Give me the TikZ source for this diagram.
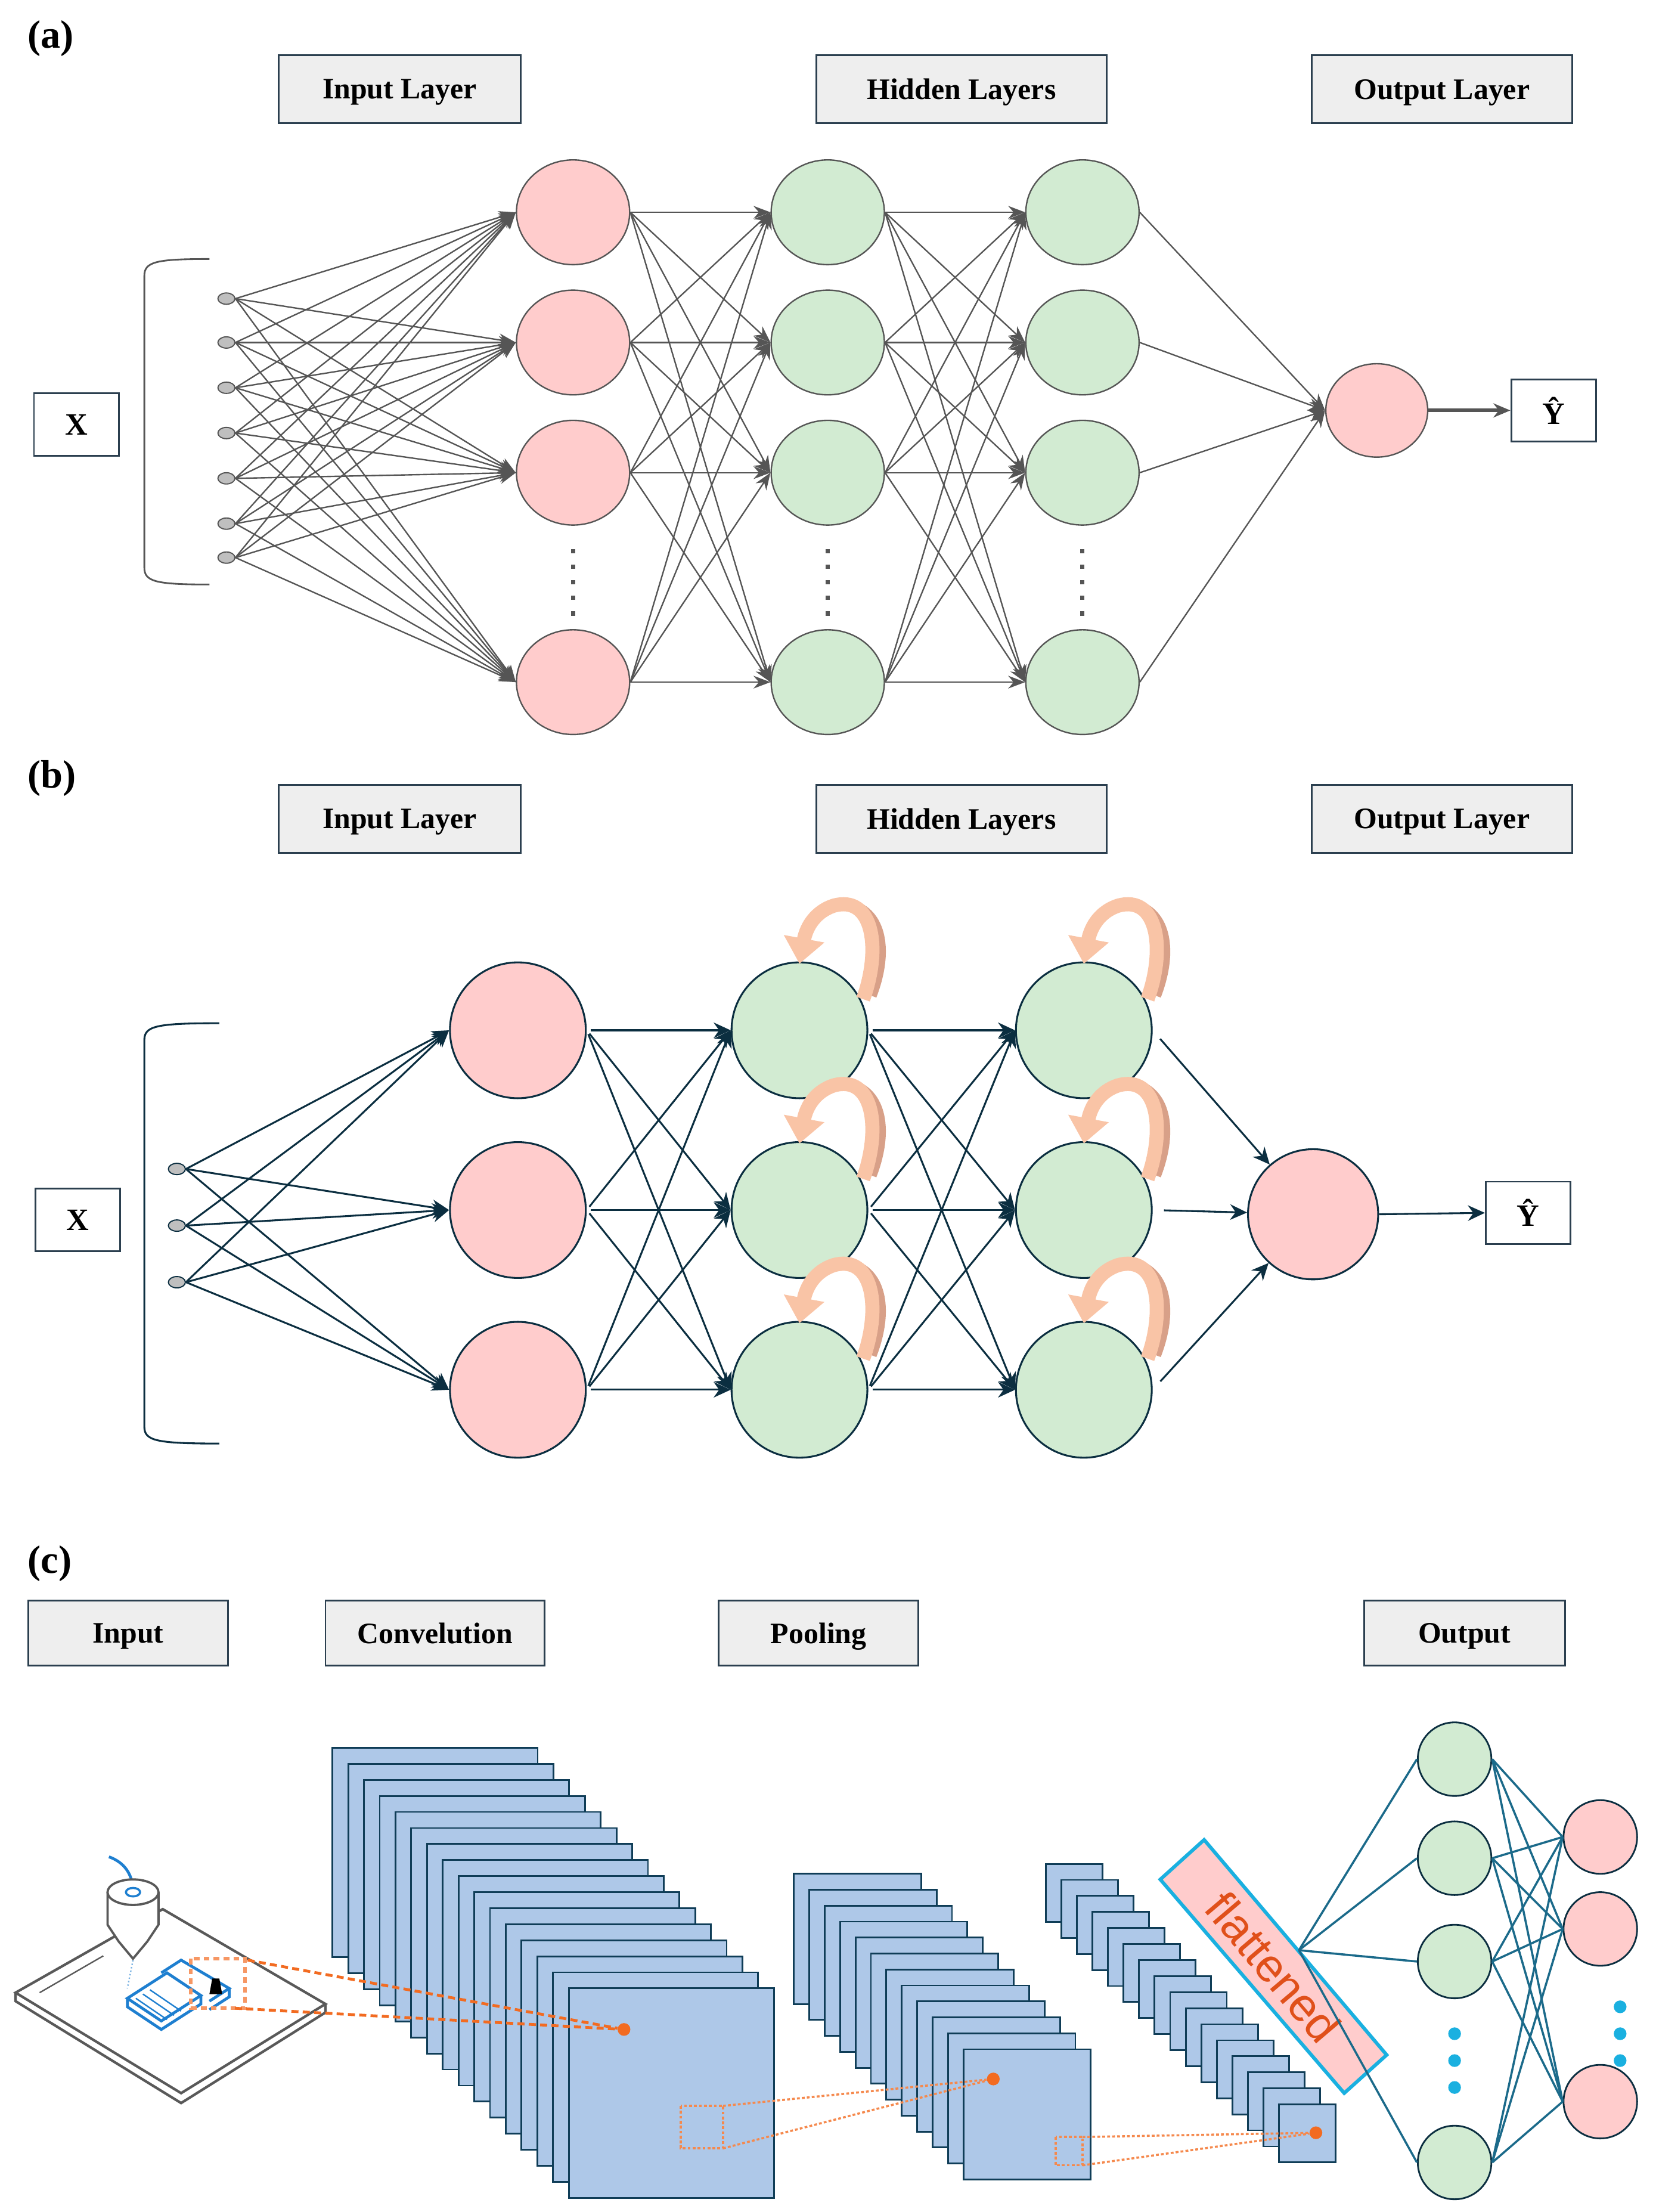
\documentclass[tikz,border=0pt]{standalone}
\usepackage{fontspec}
\setmainfont{Liberation Serif}
\newfontfamily\sansf{Liberation Sans}
\usetikzlibrary{shapes.geometric,arrows.meta,calc}
\definecolor{hdr}{HTML}{EEEEEE}
\definecolor{hdrb}{HTML}{2B3F4F}
\definecolor{pinkn}{HTML}{FFCCCC}
\definecolor{greenn}{HTML}{D2EBD2}
\definecolor{grayl}{HTML}{555555}
\definecolor{navy}{HTML}{0B2E40}
\definecolor{salmon}{HTML}{F9C4A6}
\definecolor{salmond}{HTML}{D8A088}
\definecolor{blueR}{HTML}{AEC8E8}
\definecolor{blueB}{HTML}{0F3D57}
\definecolor{teal}{HTML}{1B6A8A}
\definecolor{cyanb}{HTML}{1AB0E0}
\definecolor{orng}{HTML}{F26B21}
\definecolor{orngt}{HTML}{E0501A}
\definecolor{pblue}{HTML}{1E7FD0}
\begin{document}
\begin{tikzpicture}[x=1pt,y=-1pt,
 hbox/.style={draw=hdrb,fill=hdr,line width=1.2pt,minimum height=48pt,inner sep=0pt,text depth=0pt,font=\fontsize{21}{24}\selectfont\bfseries},
 xbox/.style={draw=hdrb,fill=white,line width=1.2pt,minimum width=60pt,minimum height=44pt,inner sep=0pt,font=\fontsize{22}{26}\selectfont\bfseries},
 lbl/.style={font=\fontsize{28}{32}\selectfont\bfseries,anchor=west},
 pa/.style={ellipse,draw=grayl,fill=pinkn,line width=1pt,minimum width=80pt,minimum height=74pt,inner sep=0pt},
 ga/.style={ellipse,draw=grayl,fill=greenn,line width=1pt,minimum width=80pt,minimum height=74pt,inner sep=0pt},
 dt/.style={ellipse,draw=grayl,fill=gray!50,line width=0.8pt,minimum width=12pt,minimum height=8pt,inner sep=0pt},
 ca/.style={draw=grayl,line width=1pt,-{Stealth[length=12pt,width=9pt]}},
 pb/.style={circle,draw=navy,fill=pinkn,line width=1.3pt,minimum size=96pt,inner sep=0pt},
 gb/.style={circle,draw=navy,fill=greenn,line width=1.3pt,minimum size=96pt,inner sep=0pt},
 cb/.style={draw=navy,line width=1.3pt,-{Stealth[length=12pt,width=11pt]}},
 rec/.style={draw=salmon,line width=10pt,-{Triangle[length=18pt,width=28pt]}},
 fm/.style={draw=blueB,fill=blueR,line width=1.2pt},
 gc/.style={ellipse,draw=navy,fill=greenn,line width=1.2pt,minimum width=52pt,minimum height=52pt,inner sep=0pt},
 pc/.style={ellipse,draw=navy,fill=pinkn,line width=1.2pt,minimum width=52pt,minimum height=52pt,inner sep=0pt},
 tl/.style={draw=teal,line width=1.5pt},
 od/.style={draw=orng,line width=2pt,dash pattern=on 5pt off 3pt},
 odt/.style={draw=orng!80,line width=1.5pt,dash pattern=on 2pt off 1.5pt},
 vd/.style={draw=grayl,line width=3pt,dash pattern=on 3pt off 8pt}]
\useasboundingbox (0,0) rectangle (1170,1563);
% ================= (a)
\node[lbl] (la) at (16,27) {(a)};
\node[hbox,minimum width=171pt] (ha1) at (282.5,63) {Input Layer};
\node[hbox,minimum width=205pt] (ha2) at (679.5,63) {Hidden Layers};
\node[hbox,minimum width=184pt] (ha3) at (1019,63) {Output Layer};
\node[xbox] (xa) at (54,300) {X};
\draw[grayl,line width=1.2pt] (148,183) .. controls (110,183) and (102,185) .. (102,195) -- (102,401) .. controls (102,411) and (110,413) .. (148,413);
\foreach \i/\y in {1/211,2/242,3/274,4/306,5/338,6/370,7/394} \node[dt] (ad\i) at (160,\y) {};
\foreach \i/\y in {1/150,2/242,3/334,4/482}{
 \node[pa] (ai\i) at (405,\y) {};
 \node[ga] (ah\i) at (585,\y) {};
 \node[ga] (ag\i) at (765,\y) {};}
\node[pa,minimum width=72pt,minimum height=66pt] (ao) at (973,290) {};
\node[xbox] (ya) at (1098,290) {Ŷ};
\draw[vd] (405,388) -- (405,440);
\draw[vd] (585,388) -- (585,440);
\draw[vd] (765,388) -- (765,440);
\foreach \i in {1,...,7} \foreach \j in {1,...,4} \draw[ca] (ad\i.east) -- (ai\j.west);
\foreach \i in {1,...,4} \foreach \j in {1,...,4}{
 \draw[ca] (ai\i.east) -- (ah\j.west);
 \draw[ca] (ah\i.east) -- (ag\j.west);}
\foreach \i in {1,...,4} \draw[ca] (ag\i.east) -- (ao.west);
\draw[grayl,line width=2.5pt,-{Stealth[length=12pt,width=10pt]}] (ao.east) -- (ya.west);
% ================= (b)
\node[lbl] (lb) at (16,550) {(b)};
\node[hbox,minimum width=171pt] (hb1) at (282.5,578.5) {Input Layer};
\node[hbox,minimum width=205pt] (hb2) at (679.5,578.5) {Hidden Layers};
\node[hbox,minimum width=184pt] (hb3) at (1019,578.5) {Output Layer};
\node[xbox] (xb) at (55,862) {X};
\draw[navy,line width=1.3pt] (155,723) .. controls (110,723) and (102,725) .. (102,735) -- (102,1008) .. controls (102,1018) and (110,1020) .. (155,1020);
\foreach \i/\y in {1/826,2/866,3/906} \node[dt,draw=navy] (bd\i) at (125,\y) {};
\foreach \i/\y in {1/728,2/855,3/982}{
 \node[pb] (bi\i) at (366,\y) {};
 \node[gb] (bh\i) at (565,\y) {};
 \node[gb] (bg\i) at (766,\y) {};}
\node[pb,minimum size=92pt] (bo) at (928,858) {};
\node[xbox] (yb) at (1080,857) {Ŷ};
\foreach \i in {1,2,3} \foreach \j in {1,2,3} \draw[cb] (bd\i.east) -- (bi\j.west);
\foreach \i in {1,2,3} \foreach \j in {1,2,3}{
 \draw[cb,shorten <=3pt] (bi\i.east) -- (bh\j.west);
 \draw[cb,shorten <=3pt] (bh\i.east) -- (bg\j.west);}
\foreach \i in {1,2,3} \draw[cb,shorten <=8pt] (bg\i.east) -- (bo);
\draw[cb] (bo.east) -- (yb.west);
\foreach \n in {bh1,bh2,bh3,bg1,bg2,bg3}{
 \draw[salmond,line width=5pt] ($(\n)+(52,-24)$) .. controls ($(\n)+(64,-55)$) and ($(\n)+(60,-84)$) .. ($(\n)+(36,-90)$);
 \draw[rec] ($(\n)+(45,-22)$) .. controls ($(\n)+(58,-58)$) and ($(\n)+(52,-96)$) .. ($(\n)+(24,-88)$) .. controls ($(\n)+(12,-84)$) and ($(\n)+(5,-74)$) .. ($(\n)+(0,-47)$);}
% ================= (c)
\node[lbl] (lc) at (16,1105) {(c)};
\node[hbox,minimum width=141pt,minimum height=46pt] (hc1) at (90.5,1154) {Input};
\node[hbox,minimum width=155pt,minimum height=46pt] (hc2) at (307.5,1154) {Convelution};
\node[hbox,minimum width=141pt,minimum height=46pt] (hc3) at (578.5,1154) {Pooling};
\node[hbox,minimum width=142pt,minimum height=46pt] (hc4) at (1035,1154) {Output};
% printer
\draw[gray!70!black,line width=1.8pt,fill=white] (11,1408) -- (115,1349) -- (230,1416) -- (128,1479) -- cycle;
\draw[gray!70!black,line width=1.8pt] (11,1408) -- (11,1414) -- (128,1486) -- (230,1422) -- (230,1416);
\draw[gray!70!black,line width=1pt] (28,1408) -- (73,1382);
\draw[pblue,line width=2pt] (90,1412) -- (118,1394) -- (142,1410) -- (114,1428) -- cycle;
\draw[pblue,line width=2pt] (90,1412) -- (90,1418) -- (114,1434) -- (142,1416) -- (142,1410);
\draw[pblue,line width=2pt] (114,1394) -- (128,1385) -- (162,1405) -- (148,1414);
\draw[pblue,line width=2pt] (162,1405) -- (162,1411) -- (148,1420);
\foreach \k in {0,5,10} \draw[pblue,line width=1pt] (96+\k,1412-\k*0.6) -- (118+\k,1427-\k*0.6);
\fill (150,1398) -- (155,1398) -- (157,1409) -- (148,1409) -- cycle;
\draw[pblue!60,line width=1pt,dash pattern=on 1pt off 1.5pt] (94,1385) -- (90,1405);
\draw[pblue,line width=2pt] (77,1312) .. controls (88,1316) and (93,1324) .. (94,1334);
\draw[gray!70!black,line width=1.6pt,fill=white] (76,1337) -- (76,1360) -- (84,1372) -- (94,1384) -- (104,1372) -- (112,1360) -- (112,1337);
\draw[gray!70!black,line width=1.6pt,fill=white] (94,1337) ellipse (18pt and 9pt);
\draw[pblue,line width=1.5pt] (94,1337) ellipse (5pt and 3pt);
\draw[orng!70,line width=2.5pt,dash pattern=on 4pt off 3pt] (135,1384) rectangle (173,1419);
\coordinate (pA) at (175,1385);
\coordinate (pB) at (166,1419);
% conv stack
\foreach \i in {0,...,15} \draw[fm] (235+11.13*\i,1235+11.33*\i) rectangle ++(145,148);
\foreach \i in {0,...,11} \draw[fm] (561+10.9*\i,1324+11.27*\i) rectangle ++(90,92);
\foreach \i in {0,...,15} \draw[fm] (739+11*\i,1317+11.33*\i) rectangle ++(40,41);
\node[circle,fill=orng,inner sep=0pt,minimum size=9pt] (c1) at (441,1434) {};
\node[circle,fill=orng,inner sep=0pt,minimum size=9pt] (c2) at (702,1469) {};
\node[circle,fill=orng,inner sep=0pt,minimum size=9pt] (c3) at (930,1507) {};
\draw[od] (pA) -- (c1);
\draw[od] (pB) -- (c1);
\draw[odt] (481,1488) rectangle (511,1518);
\draw[odt] (511,1488) -- (c2);
\draw[odt] (511,1518) -- (c2);
\draw[odt] (746,1510) rectangle (765,1530);
\draw[odt] (765,1510) -- (c3);
\draw[odt] (765,1530) -- (c3);
% flattened
\draw[cyanb,fill=pinkn,line width=2.5pt] (851,1300) -- (820,1328) -- (950,1479) -- (980,1452) -- cycle;
\node[rotate=-49.7,text=orngt,font=\sansf\fontsize{33}{35}\selectfont] (fl) at (900,1390) {flattened};
\coordinate (fp) at (918,1378);
% output net
\foreach \i/\y in {1/1243,2/1313,3/1386,4/1528} \node[gc] (og\i) at (1028,\y) {};
\foreach \i/\y in {1/1298,2/1363,3/1485} \node[pc] (op\i) at (1131,\y) {};
\foreach \i in {1,...,4} \draw[tl] (fp) -- (og\i.west);
\foreach \i in {1,...,4} \foreach \j in {1,2,3} \draw[tl] (og\i.east) -- (op\j.west);
\foreach \y in {1437,1456,1475} \fill[cyanb] (1028,\y) circle (4.5pt);
\foreach \y in {1418,1437,1456} \fill[cyanb] (1145,\y) circle (4.5pt);
\end{tikzpicture}
\end{document}
